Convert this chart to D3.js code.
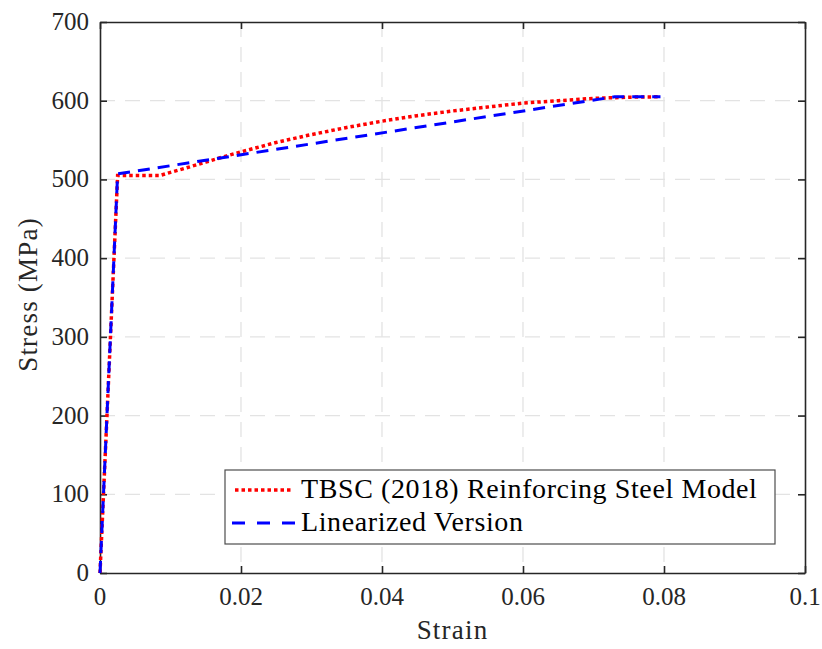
<!DOCTYPE html>
<html>
<head>
<meta charset="utf-8">
<script src="https://cdn.jsdelivr.net/npm/d3@7"></script>
<style>
  body { margin: 0; background: #fff; }
  #fig text { font-family: "Liberation Serif" !important; }
</style>
</head>
<body>
<svg id="fig" width="822" height="649"></svg>
<script>
// TBSC (2018) model curve
const tbscStrain = [0, 0.0025, 0.005, 0.0085, 0.010, 0.012, 0.015, 0.018, 0.020, 0.025, 0.030, 0.035, 0.040, 0.045, 0.050, 0.055, 0.060, 0.065, 0.070, 0.075, 0.0795]
const tbscStress = [0, 505, 505, 505, 509, 514, 522, 530, 535, 547, 557, 566, 574, 581, 587, 592, 597, 600, 603, 604.5, 605]
// linearized version
const linStrain = [0, 0.0025, 0.073, 0.0795]
const linStress = [0, 507, 605, 605]

const xTicks = [0, 0.02, 0.04, 0.06, 0.08, 0.1]
const yTicks = [0, 100, 200, 300, 400, 500, 600, 700]
const legendLabels = ["TBSC (2018) Reinforcing Steel Model", "Linearized Version"]

const MARGIN = { TOP: 22, BOTTOM: 76, LEFT: 100, RIGHT: 17 }
const WIDTH = 822 - MARGIN.LEFT - MARGIN.RIGHT
const HEIGHT = 649 - MARGIN.TOP - MARGIN.BOTTOM
const AXIS_COLOR = "#262626"
const FONT = '"Liberation Serif"'

const root = d3.select("#fig")
const svg = root.append("g")
    .attr("transform", `translate(${MARGIN.LEFT}, ${MARGIN.TOP})`)

const x = d3.scaleLinear().domain([0, 0.1]).range([0, WIDTH])
const y = d3.scaleLinear().domain([0, 700]).range([HEIGHT, 0])

// grid
svg.append("g").selectAll("line")
  .data(xTicks.slice(1, -1))
  .enter().append("line")
    .attr("x1", d => x(d)).attr("x2", d => x(d))
    .attr("y1", 0).attr("y2", HEIGHT)
    .attr("stroke", "#e3e3e3").attr("stroke-width", 1.3)
    .attr("stroke-dasharray", "15,10")
svg.append("g").selectAll("line")
  .data(yTicks.slice(1, -1))
  .enter().append("line")
    .attr("x1", 0).attr("x2", WIDTH)
    .attr("y1", d => y(d)).attr("y2", d => y(d))
    .attr("stroke", "#e3e3e3").attr("stroke-width", 1.3)
    .attr("stroke-dasharray", "15,10")

// axes: ticks inward on all four sides
function styleAxis(g) {
  g.selectAll(".domain").attr("stroke", AXIS_COLOR).attr("stroke-width", 1.6)
  g.selectAll(".tick line").attr("stroke", AXIS_COLOR).attr("stroke-width", 1.6)
}
svg.append("g")
  .attr("transform", `translate(0, ${HEIGHT})`)
  .call(d3.axisBottom(x).tickValues(xTicks).tickFormat("").tickSizeInner(-7).tickSizeOuter(0))
  .call(styleAxis)
svg.append("g")
  .call(d3.axisLeft(y).tickValues(yTicks).tickFormat("").tickSizeInner(-7).tickSizeOuter(0))
  .call(styleAxis)
svg.append("g")
  .call(d3.axisTop(x).tickValues(xTicks).tickFormat("").tickSizeInner(-7).tickSizeOuter(0))
  .call(styleAxis)
svg.append("g")
  .attr("transform", `translate(${WIDTH}, 0)`)
  .call(d3.axisRight(y).tickValues(yTicks).tickFormat("").tickSizeInner(-7).tickSizeOuter(0))
  .call(styleAxis)

// tick labels
root.selectAll("text.xtick")
  .data(xTicks)
  .enter().append("text")
    .attr("class", "xtick")
    .attr("x", d => MARGIN.LEFT + x(d))
    .attr("y", MARGIN.TOP + HEIGHT + 32)
    .attr("text-anchor", "middle")
    .attr("fill", AXIS_COLOR)
    .attr("font-family", "Liberation Serif")
    .style("font-family", FONT)
    .style("font-size", "25px")
    .text(d3.format("~g"))
root.selectAll("text.ytick")
  .data(yTicks)
  .enter().append("text")
    .attr("class", "ytick")
    .attr("x", MARGIN.LEFT - 11)
    .attr("y", d => MARGIN.TOP + y(d) + 8)
    .attr("text-anchor", "end")
    .attr("fill", AXIS_COLOR)
    .attr("font-family", "Liberation Serif")
    .style("font-family", FONT)
    .style("font-size", "25px")
    .text(d => d)

// axis labels
root.append("text")
  .attr("x", MARGIN.LEFT + WIDTH / 2)
  .attr("y", MARGIN.TOP + HEIGHT + 66)
  .attr("text-anchor", "middle")
  .attr("fill", AXIS_COLOR)
  .attr("font-family", "Liberation Serif")
  .style("font-family", FONT)
  .style("font-size", "27px")
  .style("letter-spacing", "1.2px")
  .text("Strain")

root.append("text")
  .attr("x", -(MARGIN.TOP + HEIGHT / 2) + 3)
  .attr("y", 37)
  .attr("text-anchor", "middle")
  .attr("fill", AXIS_COLOR)
  .attr("font-family", "Liberation Serif")
  .style("font-family", FONT)
  .style("font-size", "27px")
  .style("letter-spacing", "1.2px")
  .attr("transform", "rotate(-90)")
  .text("Stress (MPa)")

// curves
const tbsc = tbscStrain.map((s, i) => [s, tbscStress[i]])
const lin = linStrain.map((s, i) => [s, linStress[i]])
const line = d3.line().x(d => x(d[0])).y(d => y(d[1]))

svg.append("path")
  .datum(tbsc)
  .attr("d", line)
  .attr("fill", "none")
  .attr("stroke", "#ff0000")
  .attr("stroke-width", 3.5)
  .attr("stroke-dasharray", "3.5,3")

svg.append("path")
  .datum(lin)
  .attr("d", line)
  .attr("fill", "none")
  .attr("stroke", "#0000ff")
  .attr("stroke-width", 3)
  .attr("stroke-dasharray", "12,8")

// legend
const LEG = { X: 225, Y: 470, W: 550, H: 74 }
root.append("rect")
  .attr("x", LEG.X).attr("y", LEG.Y)
  .attr("width", LEG.W).attr("height", LEG.H)
  .attr("fill", "#fff")
  .attr("stroke", "#4d4d4d").attr("stroke-width", 1.2)

const legendStyles = [
  { color: "#ff0000", dash: "3.5,3", width: 3.5, x1: 10, x2: 68 },
  { color: "#0000ff", dash: "13,12", width: 3, x1: 7, x2: 72 }
]
legendLabels.forEach((label, i) => {
  const cy = LEG.Y + 20 + i * 33
  root.append("line")
    .attr("x1", LEG.X + legendStyles[i].x1).attr("x2", LEG.X + legendStyles[i].x2)
    .attr("y1", cy).attr("y2", cy)
    .attr("stroke", legendStyles[i].color)
    .attr("stroke-width", legendStyles[i].width)
    .attr("stroke-dasharray", legendStyles[i].dash)
  root.append("text")
    .attr("x", LEG.X + 76)
    .attr("y", cy + 8)
    .attr("fill", "#000")
    .attr("font-family", "Liberation Serif")
    .style("font-family", FONT)
    .style("font-size", "28px")
    .style("letter-spacing", "0.6px")
    .text(label)
})
</script>
</body>
</html>
